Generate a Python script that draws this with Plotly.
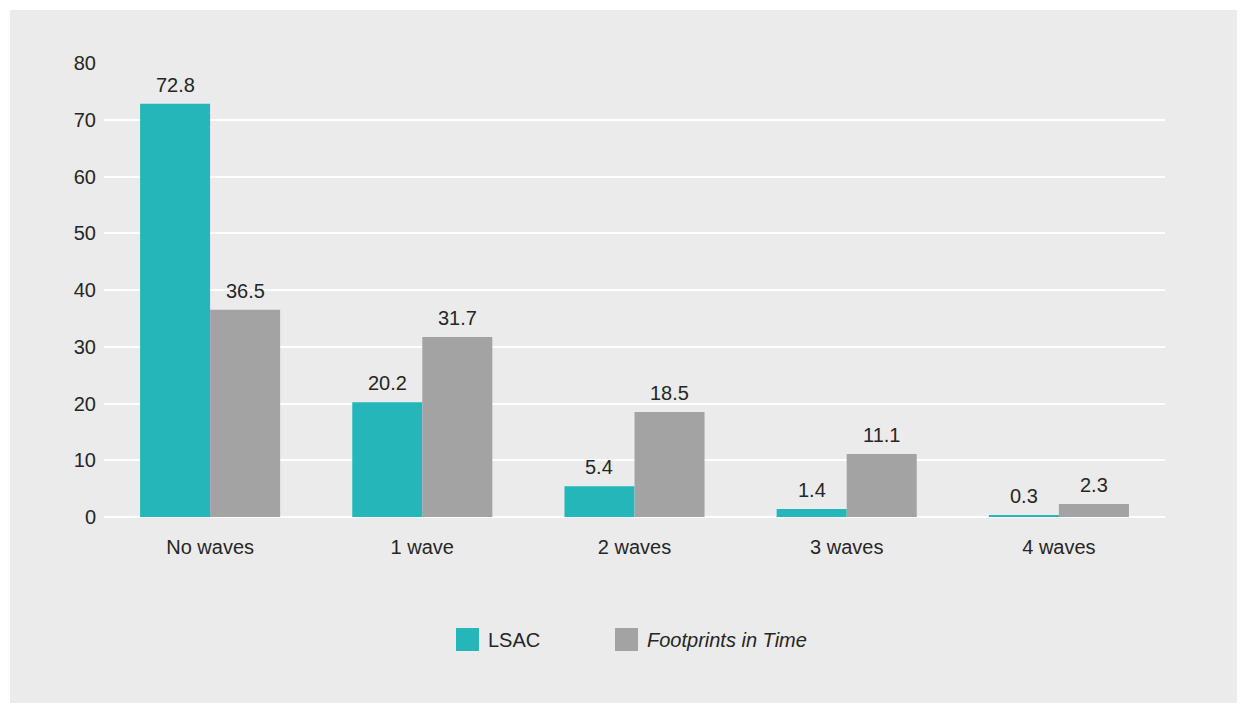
import plotly.graph_objects as go

categories = ["No waves", "1 wave", "2 waves", "3 waves", "4 waves"]
lsac = [72.8, 20.2, 5.4, 1.4, 0.3]
fit = [36.5, 31.7, 18.5, 11.1, 2.3]
y_ticks = [0, 10, 20, 30, 40, 50, 60, 70, 80]
series_names = ["LSAC", "<i>Footprints in Time</i>"]

TEAL = "#25b6b9"
GREY = "#a3a3a3"
BG = "#ebebeb"
FONT = "Liberation Sans"
TXT = "#262626"

W, H = 1247, 713
ML, MR, MT, MB = 104, 82, 63, 196
PW, PH = W - ML - MR, H - MT - MB


def px(x):
    return (x - ML) / PW


def py(y):
    return (H - MB - y) / PH


fig = go.Figure()
fig.add_trace(go.Bar(name=series_names[0], x=categories, y=lsac,
                     marker_color=TEAL, marker_line_width=0))
fig.add_trace(go.Bar(name=series_names[1], x=categories, y=fit,
                     marker_color=GREY, marker_line_width=0))

# value labels
for i, (a, b) in enumerate(zip(lsac, fit)):
    for off, v in ((-0.165, a), (0.165, b)):
        fig.add_annotation(x=i + off, y=v, xref="x", yref="y", text=f"{v}",
                           showarrow=False, yanchor="bottom", yshift=6,
                           font=dict(family=FONT, size=20, color=TXT))

# background panel
fig.add_shape(type="rect", xref="paper", yref="paper",
              x0=px(10), x1=px(1237), y0=py(703), y1=py(10),
              fillcolor=BG, line_width=0, layer="below")

# custom legend
legend_items = [(456, TEAL, series_names[0]), (615, GREY, series_names[1])]
for x0, col, name in legend_items:
    fig.add_shape(type="rect", xref="paper", yref="paper",
                  x0=px(x0), x1=px(x0 + 23), y0=py(651), y1=py(628),
                  fillcolor=col, line_width=0)
    fig.add_annotation(xref="paper", yref="paper", x=px(x0 + 30), y=py(639.5),
                       text=name, showarrow=False, xanchor="left",
                       yanchor="middle",
                       font=dict(family=FONT, size=20, color=TXT))

fig.update_layout(
    width=W, height=H,
    margin=dict(l=ML, r=MR, t=MT, b=MB),
    paper_bgcolor="white", plot_bgcolor="rgba(0,0,0,0)",
    barmode="group", bargap=0.34, bargroupgap=0,
    font=dict(family=FONT, size=20, color=TXT),
    showlegend=False,
)
fig.update_xaxes(showgrid=False, showline=False, zeroline=False,
                 ticks="", ticklabelstandoff=16,
                 tickfont=dict(family=FONT, size=20, color=TXT))
fig.update_yaxes(range=[0, 80], tickvals=y_ticks, showgrid=True,
                 gridcolor="white", gridwidth=2, zeroline=True,
                 zerolinecolor="white", zerolinewidth=2, showline=False,
                 ticks="", ticklabelstandoff=7,
                 tickfont=dict(family=FONT, size=20, color=TXT))

fig.write_html("out.html")
